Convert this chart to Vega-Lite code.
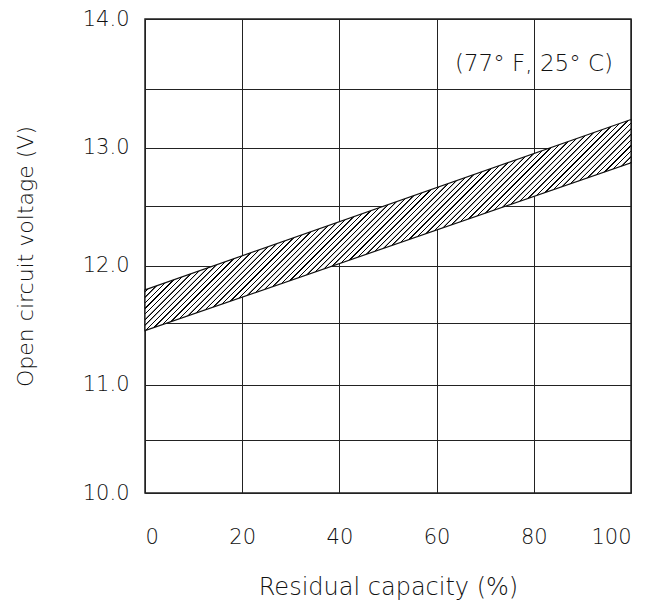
{
  "$schema": "https://vega.github.io/schema/vega-lite/v6.json",
  "width": 486,
  "height": 474,
  "autosize": "none",
  "padding": {"left": 145, "top": 19, "right": 24, "bottom": 113},
  "background": "white",
  "config": {
    "view": {"stroke": "#222", "strokeWidth": 1.5},
    "axis": {
      "labelFont": "DejaVu Sans",
      "labelFontSize": 21,
      "labelFontWeight": 300,
      "labelColor": "#111",
      "titleFont": "DejaVu Sans",
      "titleFontSize": 24,
      "titleFontWeight": 300,
      "titleColor": "#111",
      "domain": false,
      "ticks": false,
      "gridColor": "#222",
      "gridOpacity": 1,
      "gridWidth": 1
    }
  },
  "layer": [
    {
      "data": {"values": [
        {"capacity": 0, "low": 11.44, "high": 11.79},
        {"capacity": 100, "low": 12.87, "high": 13.24}
      ]},
      "mark": {
        "type": "area",
        "stroke": "#111",
        "strokeWidth": 1.2,
        "fillOpacity": 1,
        "fill": {
          "gradient": "linear",
          "x1": 0, "y1": 0, "x2": 1.2067, "y2": 0.5232,
          "stops": [
{"offset":0,"color":"#fff"},
{"offset":0.0055,"color":"#fff"},{"offset":0.006,"color":"#000"},{"offset":0.0075,"color":"#000"},{"offset":0.008,"color":"#fff"},
{"offset":0.0135,"color":"#fff"},{"offset":0.014,"color":"#000"},{"offset":0.0155,"color":"#000"},{"offset":0.016,"color":"#fff"},
{"offset":0.0215,"color":"#fff"},{"offset":0.022,"color":"#000"},{"offset":0.0235,"color":"#000"},{"offset":0.024,"color":"#fff"},
{"offset":0.0295,"color":"#fff"},{"offset":0.03,"color":"#000"},{"offset":0.0315,"color":"#000"},{"offset":0.032,"color":"#fff"},
{"offset":0.0375,"color":"#fff"},{"offset":0.038,"color":"#000"},{"offset":0.0395,"color":"#000"},{"offset":0.04,"color":"#fff"},
{"offset":0.0455,"color":"#fff"},{"offset":0.046,"color":"#000"},{"offset":0.0475,"color":"#000"},{"offset":0.048,"color":"#fff"},
{"offset":0.0535,"color":"#fff"},{"offset":0.054,"color":"#000"},{"offset":0.0555,"color":"#000"},{"offset":0.056,"color":"#fff"},
{"offset":0.0615,"color":"#fff"},{"offset":0.062,"color":"#000"},{"offset":0.0635,"color":"#000"},{"offset":0.064,"color":"#fff"},
{"offset":0.0695,"color":"#fff"},{"offset":0.07,"color":"#000"},{"offset":0.0715,"color":"#000"},{"offset":0.072,"color":"#fff"},
{"offset":0.0775,"color":"#fff"},{"offset":0.078,"color":"#000"},{"offset":0.0795,"color":"#000"},{"offset":0.08,"color":"#fff"},
{"offset":0.0855,"color":"#fff"},{"offset":0.086,"color":"#000"},{"offset":0.0875,"color":"#000"},{"offset":0.088,"color":"#fff"},
{"offset":0.0935,"color":"#fff"},{"offset":0.094,"color":"#000"},{"offset":0.0955,"color":"#000"},{"offset":0.096,"color":"#fff"},
{"offset":0.1015,"color":"#fff"},{"offset":0.102,"color":"#000"},{"offset":0.1035,"color":"#000"},{"offset":0.104,"color":"#fff"},
{"offset":0.1095,"color":"#fff"},{"offset":0.11,"color":"#000"},{"offset":0.1115,"color":"#000"},{"offset":0.112,"color":"#fff"},
{"offset":0.1175,"color":"#fff"},{"offset":0.118,"color":"#000"},{"offset":0.1195,"color":"#000"},{"offset":0.12,"color":"#fff"},
{"offset":0.1255,"color":"#fff"},{"offset":0.126,"color":"#000"},{"offset":0.1275,"color":"#000"},{"offset":0.128,"color":"#fff"},
{"offset":0.1335,"color":"#fff"},{"offset":0.134,"color":"#000"},{"offset":0.1355,"color":"#000"},{"offset":0.136,"color":"#fff"},
{"offset":0.1415,"color":"#fff"},{"offset":0.142,"color":"#000"},{"offset":0.1435,"color":"#000"},{"offset":0.144,"color":"#fff"},
{"offset":0.1495,"color":"#fff"},{"offset":0.15,"color":"#000"},{"offset":0.1515,"color":"#000"},{"offset":0.152,"color":"#fff"},
{"offset":0.1575,"color":"#fff"},{"offset":0.158,"color":"#000"},{"offset":0.1595,"color":"#000"},{"offset":0.16,"color":"#fff"},
{"offset":0.1655,"color":"#fff"},{"offset":0.166,"color":"#000"},{"offset":0.1675,"color":"#000"},{"offset":0.168,"color":"#fff"},
{"offset":0.1735,"color":"#fff"},{"offset":0.174,"color":"#000"},{"offset":0.1755,"color":"#000"},{"offset":0.176,"color":"#fff"},
{"offset":0.1815,"color":"#fff"},{"offset":0.182,"color":"#000"},{"offset":0.1835,"color":"#000"},{"offset":0.184,"color":"#fff"},
{"offset":0.1895,"color":"#fff"},{"offset":0.19,"color":"#000"},{"offset":0.1915,"color":"#000"},{"offset":0.192,"color":"#fff"},
{"offset":0.1975,"color":"#fff"},{"offset":0.198,"color":"#000"},{"offset":0.1995,"color":"#000"},{"offset":0.2,"color":"#fff"},
{"offset":0.2055,"color":"#fff"},{"offset":0.206,"color":"#000"},{"offset":0.2075,"color":"#000"},{"offset":0.208,"color":"#fff"},
{"offset":0.2135,"color":"#fff"},{"offset":0.214,"color":"#000"},{"offset":0.2155,"color":"#000"},{"offset":0.216,"color":"#fff"},
{"offset":0.2215,"color":"#fff"},{"offset":0.222,"color":"#000"},{"offset":0.2235,"color":"#000"},{"offset":0.224,"color":"#fff"},
{"offset":0.2295,"color":"#fff"},{"offset":0.23,"color":"#000"},{"offset":0.2315,"color":"#000"},{"offset":0.232,"color":"#fff"},
{"offset":0.2375,"color":"#fff"},{"offset":0.238,"color":"#000"},{"offset":0.2395,"color":"#000"},{"offset":0.24,"color":"#fff"},
{"offset":0.2455,"color":"#fff"},{"offset":0.246,"color":"#000"},{"offset":0.2475,"color":"#000"},{"offset":0.248,"color":"#fff"},
{"offset":0.2535,"color":"#fff"},{"offset":0.254,"color":"#000"},{"offset":0.2555,"color":"#000"},{"offset":0.256,"color":"#fff"},
{"offset":0.2615,"color":"#fff"},{"offset":0.262,"color":"#000"},{"offset":0.2635,"color":"#000"},{"offset":0.264,"color":"#fff"},
{"offset":0.2695,"color":"#fff"},{"offset":0.27,"color":"#000"},{"offset":0.2715,"color":"#000"},{"offset":0.272,"color":"#fff"},
{"offset":0.2775,"color":"#fff"},{"offset":0.278,"color":"#000"},{"offset":0.2795,"color":"#000"},{"offset":0.28,"color":"#fff"},
{"offset":0.2855,"color":"#fff"},{"offset":0.286,"color":"#000"},{"offset":0.2875,"color":"#000"},{"offset":0.288,"color":"#fff"},
{"offset":0.2935,"color":"#fff"},{"offset":0.294,"color":"#000"},{"offset":0.2955,"color":"#000"},{"offset":0.296,"color":"#fff"},
{"offset":0.3015,"color":"#fff"},{"offset":0.302,"color":"#000"},{"offset":0.3035,"color":"#000"},{"offset":0.304,"color":"#fff"},
{"offset":0.3095,"color":"#fff"},{"offset":0.31,"color":"#000"},{"offset":0.3115,"color":"#000"},{"offset":0.312,"color":"#fff"},
{"offset":0.3175,"color":"#fff"},{"offset":0.318,"color":"#000"},{"offset":0.3195,"color":"#000"},{"offset":0.32,"color":"#fff"},
{"offset":0.3255,"color":"#fff"},{"offset":0.326,"color":"#000"},{"offset":0.3275,"color":"#000"},{"offset":0.328,"color":"#fff"},
{"offset":0.3335,"color":"#fff"},{"offset":0.334,"color":"#000"},{"offset":0.3355,"color":"#000"},{"offset":0.336,"color":"#fff"},
{"offset":0.3415,"color":"#fff"},{"offset":0.342,"color":"#000"},{"offset":0.3435,"color":"#000"},{"offset":0.344,"color":"#fff"},
{"offset":0.3495,"color":"#fff"},{"offset":0.35,"color":"#000"},{"offset":0.3515,"color":"#000"},{"offset":0.352,"color":"#fff"},
{"offset":0.3575,"color":"#fff"},{"offset":0.358,"color":"#000"},{"offset":0.3595,"color":"#000"},{"offset":0.36,"color":"#fff"},
{"offset":0.3655,"color":"#fff"},{"offset":0.366,"color":"#000"},{"offset":0.3675,"color":"#000"},{"offset":0.368,"color":"#fff"},
{"offset":0.3735,"color":"#fff"},{"offset":0.374,"color":"#000"},{"offset":0.3755,"color":"#000"},{"offset":0.376,"color":"#fff"},
{"offset":0.3815,"color":"#fff"},{"offset":0.382,"color":"#000"},{"offset":0.3835,"color":"#000"},{"offset":0.384,"color":"#fff"},
{"offset":0.3895,"color":"#fff"},{"offset":0.39,"color":"#000"},{"offset":0.3915,"color":"#000"},{"offset":0.392,"color":"#fff"},
{"offset":0.3975,"color":"#fff"},{"offset":0.398,"color":"#000"},{"offset":0.3995,"color":"#000"},{"offset":0.4,"color":"#fff"},
{"offset":0.4055,"color":"#fff"},{"offset":0.406,"color":"#000"},{"offset":0.4075,"color":"#000"},{"offset":0.408,"color":"#fff"},
{"offset":0.4135,"color":"#fff"},{"offset":0.414,"color":"#000"},{"offset":0.4155,"color":"#000"},{"offset":0.416,"color":"#fff"},
{"offset":0.4215,"color":"#fff"},{"offset":0.422,"color":"#000"},{"offset":0.4235,"color":"#000"},{"offset":0.424,"color":"#fff"},
{"offset":0.4295,"color":"#fff"},{"offset":0.43,"color":"#000"},{"offset":0.4315,"color":"#000"},{"offset":0.432,"color":"#fff"},
{"offset":0.4375,"color":"#fff"},{"offset":0.438,"color":"#000"},{"offset":0.4395,"color":"#000"},{"offset":0.44,"color":"#fff"},
{"offset":0.4455,"color":"#fff"},{"offset":0.446,"color":"#000"},{"offset":0.4475,"color":"#000"},{"offset":0.448,"color":"#fff"},
{"offset":0.4535,"color":"#fff"},{"offset":0.454,"color":"#000"},{"offset":0.4555,"color":"#000"},{"offset":0.456,"color":"#fff"},
{"offset":0.4615,"color":"#fff"},{"offset":0.462,"color":"#000"},{"offset":0.4635,"color":"#000"},{"offset":0.464,"color":"#fff"},
{"offset":0.4695,"color":"#fff"},{"offset":0.47,"color":"#000"},{"offset":0.4715,"color":"#000"},{"offset":0.472,"color":"#fff"},
{"offset":0.4775,"color":"#fff"},{"offset":0.478,"color":"#000"},{"offset":0.4795,"color":"#000"},{"offset":0.48,"color":"#fff"},
{"offset":0.4855,"color":"#fff"},{"offset":0.486,"color":"#000"},{"offset":0.4875,"color":"#000"},{"offset":0.488,"color":"#fff"},
{"offset":0.4935,"color":"#fff"},{"offset":0.494,"color":"#000"},{"offset":0.4955,"color":"#000"},{"offset":0.496,"color":"#fff"},
{"offset":0.5015,"color":"#fff"},{"offset":0.502,"color":"#000"},{"offset":0.5035,"color":"#000"},{"offset":0.504,"color":"#fff"},
{"offset":0.5095,"color":"#fff"},{"offset":0.51,"color":"#000"},{"offset":0.5115,"color":"#000"},{"offset":0.512,"color":"#fff"},
{"offset":0.5175,"color":"#fff"},{"offset":0.518,"color":"#000"},{"offset":0.5195,"color":"#000"},{"offset":0.52,"color":"#fff"},
{"offset":0.5255,"color":"#fff"},{"offset":0.526,"color":"#000"},{"offset":0.5275,"color":"#000"},{"offset":0.528,"color":"#fff"},
{"offset":0.5335,"color":"#fff"},{"offset":0.534,"color":"#000"},{"offset":0.5355,"color":"#000"},{"offset":0.536,"color":"#fff"},
{"offset":0.5415,"color":"#fff"},{"offset":0.542,"color":"#000"},{"offset":0.5435,"color":"#000"},{"offset":0.544,"color":"#fff"},
{"offset":0.5495,"color":"#fff"},{"offset":0.55,"color":"#000"},{"offset":0.5515,"color":"#000"},{"offset":0.552,"color":"#fff"},
{"offset":0.5575,"color":"#fff"},{"offset":0.558,"color":"#000"},{"offset":0.5595,"color":"#000"},{"offset":0.56,"color":"#fff"},
{"offset":0.5655,"color":"#fff"},{"offset":0.566,"color":"#000"},{"offset":0.5675,"color":"#000"},{"offset":0.568,"color":"#fff"},
{"offset":0.5735,"color":"#fff"},{"offset":0.574,"color":"#000"},{"offset":0.5755,"color":"#000"},{"offset":0.576,"color":"#fff"},
{"offset":0.5815,"color":"#fff"},{"offset":0.582,"color":"#000"},{"offset":0.5835,"color":"#000"},{"offset":0.584,"color":"#fff"},
{"offset":0.5895,"color":"#fff"},{"offset":0.59,"color":"#000"},{"offset":0.5915,"color":"#000"},{"offset":0.592,"color":"#fff"},
{"offset":0.5975,"color":"#fff"},{"offset":0.598,"color":"#000"},{"offset":0.5995,"color":"#000"},{"offset":0.6,"color":"#fff"},
{"offset":0.6055,"color":"#fff"},{"offset":0.606,"color":"#000"},{"offset":0.6075,"color":"#000"},{"offset":0.608,"color":"#fff"},
{"offset":0.6135,"color":"#fff"},{"offset":0.614,"color":"#000"},{"offset":0.6155,"color":"#000"},{"offset":0.616,"color":"#fff"},
{"offset":0.6215,"color":"#fff"},{"offset":0.622,"color":"#000"},{"offset":0.6235,"color":"#000"},{"offset":0.624,"color":"#fff"},
{"offset":0.6295,"color":"#fff"},{"offset":0.63,"color":"#000"},{"offset":0.6315,"color":"#000"},{"offset":0.632,"color":"#fff"},
{"offset":0.6375,"color":"#fff"},{"offset":0.638,"color":"#000"},{"offset":0.6395,"color":"#000"},{"offset":0.64,"color":"#fff"},
{"offset":0.6455,"color":"#fff"},{"offset":0.646,"color":"#000"},{"offset":0.6475,"color":"#000"},{"offset":0.648,"color":"#fff"},
{"offset":0.6535,"color":"#fff"},{"offset":0.654,"color":"#000"},{"offset":0.6555,"color":"#000"},{"offset":0.656,"color":"#fff"},
{"offset":0.6615,"color":"#fff"},{"offset":0.662,"color":"#000"},{"offset":0.6635,"color":"#000"},{"offset":0.664,"color":"#fff"},
{"offset":0.6695,"color":"#fff"},{"offset":0.67,"color":"#000"},{"offset":0.6715,"color":"#000"},{"offset":0.672,"color":"#fff"},
{"offset":0.6775,"color":"#fff"},{"offset":0.678,"color":"#000"},{"offset":0.6795,"color":"#000"},{"offset":0.68,"color":"#fff"},
{"offset":0.6855,"color":"#fff"},{"offset":0.686,"color":"#000"},{"offset":0.6875,"color":"#000"},{"offset":0.688,"color":"#fff"},
{"offset":0.6935,"color":"#fff"},{"offset":0.694,"color":"#000"},{"offset":0.6955,"color":"#000"},{"offset":0.696,"color":"#fff"},
{"offset":0.7015,"color":"#fff"},{"offset":0.702,"color":"#000"},{"offset":0.7035,"color":"#000"},{"offset":0.704,"color":"#fff"},
{"offset":0.7095,"color":"#fff"},{"offset":0.71,"color":"#000"},{"offset":0.7115,"color":"#000"},{"offset":0.712,"color":"#fff"},
{"offset":0.7175,"color":"#fff"},{"offset":0.718,"color":"#000"},{"offset":0.7195,"color":"#000"},{"offset":0.72,"color":"#fff"},
{"offset":0.7255,"color":"#fff"},{"offset":0.726,"color":"#000"},{"offset":0.7275,"color":"#000"},{"offset":0.728,"color":"#fff"},
{"offset":0.7335,"color":"#fff"},{"offset":0.734,"color":"#000"},{"offset":0.7355,"color":"#000"},{"offset":0.736,"color":"#fff"},
{"offset":0.7415,"color":"#fff"},{"offset":0.742,"color":"#000"},{"offset":0.7435,"color":"#000"},{"offset":0.744,"color":"#fff"},
{"offset":0.7495,"color":"#fff"},{"offset":0.75,"color":"#000"},{"offset":0.7515,"color":"#000"},{"offset":0.752,"color":"#fff"},
{"offset":0.7575,"color":"#fff"},{"offset":0.758,"color":"#000"},{"offset":0.7595,"color":"#000"},{"offset":0.76,"color":"#fff"},
{"offset":0.7655,"color":"#fff"},{"offset":0.766,"color":"#000"},{"offset":0.7675,"color":"#000"},{"offset":0.768,"color":"#fff"},
{"offset":0.7735,"color":"#fff"},{"offset":0.774,"color":"#000"},{"offset":0.7755,"color":"#000"},{"offset":0.776,"color":"#fff"},
{"offset":0.7815,"color":"#fff"},{"offset":0.782,"color":"#000"},{"offset":0.7835,"color":"#000"},{"offset":0.784,"color":"#fff"},
{"offset":0.7895,"color":"#fff"},{"offset":0.79,"color":"#000"},{"offset":0.7915,"color":"#000"},{"offset":0.792,"color":"#fff"},
{"offset":0.7975,"color":"#fff"},{"offset":0.798,"color":"#000"},{"offset":0.7995,"color":"#000"},{"offset":0.8,"color":"#fff"},
{"offset":0.8055,"color":"#fff"},{"offset":0.806,"color":"#000"},{"offset":0.8075,"color":"#000"},{"offset":0.808,"color":"#fff"},
{"offset":0.8135,"color":"#fff"},{"offset":0.814,"color":"#000"},{"offset":0.8155,"color":"#000"},{"offset":0.816,"color":"#fff"},
{"offset":0.8215,"color":"#fff"},{"offset":0.822,"color":"#000"},{"offset":0.8235,"color":"#000"},{"offset":0.824,"color":"#fff"},
{"offset":0.8295,"color":"#fff"},{"offset":0.83,"color":"#000"},{"offset":0.8315,"color":"#000"},{"offset":0.832,"color":"#fff"},
{"offset":0.8375,"color":"#fff"},{"offset":0.838,"color":"#000"},{"offset":0.8395,"color":"#000"},{"offset":0.84,"color":"#fff"},
{"offset":0.8455,"color":"#fff"},{"offset":0.846,"color":"#000"},{"offset":0.8475,"color":"#000"},{"offset":0.848,"color":"#fff"},
{"offset":0.8535,"color":"#fff"},{"offset":0.854,"color":"#000"},{"offset":0.8555,"color":"#000"},{"offset":0.856,"color":"#fff"},
{"offset":0.8615,"color":"#fff"},{"offset":0.862,"color":"#000"},{"offset":0.8635,"color":"#000"},{"offset":0.864,"color":"#fff"},
{"offset":0.8695,"color":"#fff"},{"offset":0.87,"color":"#000"},{"offset":0.8715,"color":"#000"},{"offset":0.872,"color":"#fff"},
{"offset":0.8775,"color":"#fff"},{"offset":0.878,"color":"#000"},{"offset":0.8795,"color":"#000"},{"offset":0.88,"color":"#fff"},
{"offset":0.8855,"color":"#fff"},{"offset":0.886,"color":"#000"},{"offset":0.8875,"color":"#000"},{"offset":0.888,"color":"#fff"},
{"offset":0.8935,"color":"#fff"},{"offset":0.894,"color":"#000"},{"offset":0.8955,"color":"#000"},{"offset":0.896,"color":"#fff"},
{"offset":0.9015,"color":"#fff"},{"offset":0.902,"color":"#000"},{"offset":0.9035,"color":"#000"},{"offset":0.904,"color":"#fff"},
{"offset":0.9095,"color":"#fff"},{"offset":0.91,"color":"#000"},{"offset":0.9115,"color":"#000"},{"offset":0.912,"color":"#fff"},
{"offset":0.9175,"color":"#fff"},{"offset":0.918,"color":"#000"},{"offset":0.9195,"color":"#000"},{"offset":0.92,"color":"#fff"},
{"offset":0.9255,"color":"#fff"},{"offset":0.926,"color":"#000"},{"offset":0.9275,"color":"#000"},{"offset":0.928,"color":"#fff"},
{"offset":0.9335,"color":"#fff"},{"offset":0.934,"color":"#000"},{"offset":0.9355,"color":"#000"},{"offset":0.936,"color":"#fff"},
{"offset":0.9415,"color":"#fff"},{"offset":0.942,"color":"#000"},{"offset":0.9435,"color":"#000"},{"offset":0.944,"color":"#fff"},
{"offset":0.9495,"color":"#fff"},{"offset":0.95,"color":"#000"},{"offset":0.9515,"color":"#000"},{"offset":0.952,"color":"#fff"},
{"offset":0.9575,"color":"#fff"},{"offset":0.958,"color":"#000"},{"offset":0.9595,"color":"#000"},{"offset":0.96,"color":"#fff"},
{"offset":0.9655,"color":"#fff"},{"offset":0.966,"color":"#000"},{"offset":0.9675,"color":"#000"},{"offset":0.968,"color":"#fff"},
{"offset":0.9735,"color":"#fff"},{"offset":0.974,"color":"#000"},{"offset":0.9755,"color":"#000"},{"offset":0.976,"color":"#fff"},
{"offset":0.9815,"color":"#fff"},{"offset":0.982,"color":"#000"},{"offset":0.9835,"color":"#000"},{"offset":0.984,"color":"#fff"},
{"offset":0.9895,"color":"#fff"},{"offset":0.99,"color":"#000"},{"offset":0.9915,"color":"#000"},{"offset":0.992,"color":"#fff"},
{"offset":0.9975,"color":"#fff"},{"offset":0.998,"color":"#000"},{"offset":0.9995,"color":"#000"},{"offset":1,"color":"#fff"}
          ]
        }
      },
      "encoding": {
        "x": {
          "field": "capacity",
          "type": "quantitative",
          "scale": {"domain": [0, 100], "nice": false},
          "axis": {
            "values": [0, 20, 40, 60, 80, 100],
            "title": "Residual capacity (%)",
            "labelPadding": 33,
            "titlePadding": 28,
            "grid": true
          }
        },
        "y": {
          "field": "high",
          "type": "quantitative",
          "scale": {
            "domain": [10, 10.5, 11, 11.5, 12, 12.5, 13, 13.5, 14],
            "range": [474, 421, 365.7, 304.3, 246.6, 187.3, 128.7, 70, 0],
            "nice": false,
            "zero": false
          },
          "axis": {
            "values": [10, 10.5, 11, 11.5, 12, 12.5, 13, 13.5, 14],
            "labelExpr": "datum.value % 1 === 0 ? format(datum.value, '.1f') : ''",
            "title": "Open circuit voltage (V)",
            "titleFontSize": 22,
            "labelPadding": 16,
            "titlePadding": 45,
            "grid": true
          }
        },
        "y2": {"field": "low"}
      }
    },
    {
      "data": {"values": [
        {"capacity": 96.3, "voltage": 13.68, "label": "(77° F, 25° C)"}
      ]},
      "mark": {
        "type": "text",
        "align": "right",
        "baseline": "middle",
        "font": "DejaVu Sans",
        "fontSize": 23,
        "fontWeight": 300,
        "color": "#111"
      },
      "encoding": {
        "x": {"field": "capacity", "type": "quantitative"},
        "y": {"field": "voltage", "type": "quantitative"},
        "text": {"field": "label"}
      }
    }
  ]
}
